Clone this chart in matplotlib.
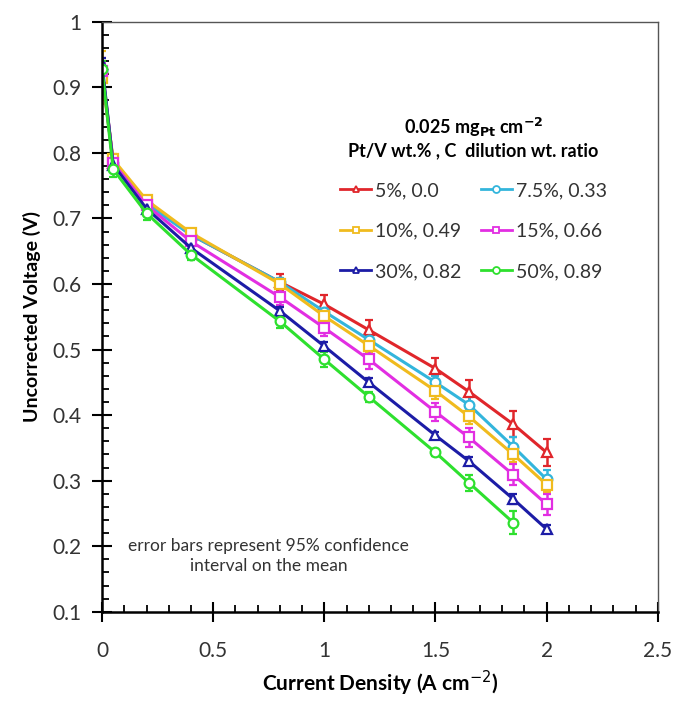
import numpy as np
import matplotlib.pyplot as plt
from matplotlib.ticker import MultipleLocator
from matplotlib.lines import Line2D

plt.rcParams['font.family'] = ['Lato', 'DejaVu Sans']

# current density (A cm-2)
x_all = [0, 0.05, 0.2, 0.4, 0.8, 1.0, 1.2, 1.5, 1.65, 1.85, 2.0]

labels = ['5%, 0.0', '7.5%, 0.33', '10%, 0.49', '15%, 0.66', '30%, 0.82', '50%, 0.89']

v_5 = [0.930, 0.785, 0.725, 0.675, 0.603, 0.569, 0.530, 0.471, 0.436, 0.386, 0.343]
v_7_5 = [0.925, 0.785, 0.722, 0.675, 0.603, 0.558, 0.515, 0.450, 0.416, 0.352, 0.302]
v_10 = [0.915, 0.790, 0.728, 0.678, 0.600, 0.551, 0.506, 0.437, 0.398, 0.340, 0.294]
v_15 = [0.925, 0.785, 0.720, 0.665, 0.580, 0.533, 0.485, 0.405, 0.366, 0.309, 0.264]
v_30 = [0.935, 0.782, 0.715, 0.655, 0.559, 0.505, 0.450, 0.369, 0.330, 0.272, 0.226]
v_50 = [0.928, 0.775, 0.708, 0.645, 0.543, 0.485, 0.428, 0.343, 0.297, 0.236]

e_5 = [0.015, 0.008, 0.006, 0.006, 0.012, 0.014, 0.015, 0.016, 0.018, 0.020, 0.020]
e_7_5 = [0.010, 0.006, 0.005, 0.005, 0.006, 0.007, 0.008, 0.010, 0.012, 0.015, 0.015]
e_10 = [0.040, 0.008, 0.006, 0.006, 0.008, 0.009, 0.010, 0.012, 0.012, 0.012, 0.012]
e_15 = [0.012, 0.006, 0.006, 0.006, 0.012, 0.013, 0.014, 0.014, 0.014, 0.016, 0.016]
e_30 = [0.010, 0.006, 0.005, 0.005, 0.006, 0.006, 0.006, 0.006, 0.006, 0.008, 0.006]
e_50 = [0.012, 0.012, 0.010, 0.008, 0.010, 0.012, 0.008, 0.006, 0.012, 0.018]

series = [v_5, v_7_5, v_10, v_15, v_30, v_50]
errors = [e_5, e_7_5, e_10, e_15, e_30, e_50]
colors = ['#e0262b', '#33b5dc', '#f0bb1e', '#e22ee2', '#1c1ca6', '#2ee02e']
markers = ['^', 'o', 's', 's', '^', 'o']

fig = plt.figure(figsize=(6.76, 7.04), dpi=100)
ax = fig.add_axes([0.151, 0.131, 0.822, 0.838])

handles = []
for v, e, c, m, lab in zip(series, errors, colors, markers, labels):
    x = x_all[:len(v)]
    ax.errorbar(x, v, yerr=e, color=c, marker=m, markersize=7, markerfacecolor='white',
                markeredgewidth=1.6, linewidth=2.2, elinewidth=1.8, capsize=3, capthick=1.8)
    handles.append(Line2D([], [], color=c, marker=m, markersize=5, markerfacecolor='white',
                          markeredgewidth=1.3, linewidth=2.0, label=lab))

ax.set_xlim(0, 2.5)
ax.set_ylim(0.1, 1.0)
ax.xaxis.set_minor_locator(MultipleLocator(0.1))
ax.yaxis.set_minor_locator(MultipleLocator(0.02))
ax.set_xticks([0, 0.5, 1, 1.5, 2, 2.5])
ax.set_xticklabels(['0', '0.5', '1', '1.5', '2', '2.5'])
ax.set_yticks(np.arange(0.1, 1.01, 0.1))
ax.set_yticklabels(['0.1', '0.2', '0.3', '0.4', '0.5', '0.6', '0.7', '0.8', '0.9', '1'])

ax.tick_params(which='major', direction='inout', length=14, width=1.5, labelsize=15,
               colors='black', labelcolor='#333333', pad=8)
ax.tick_params(which='minor', direction='in', length=5, width=1.3)
ax.tick_params(axis='x', pad=14)

for s in ['left', 'bottom']:
    ax.spines[s].set_linewidth(1.8)
for s in ['top', 'right']:
    ax.spines[s].set_linewidth(1.0)
    ax.spines[s].set_color('#555555')

ax.set_xlabel('Current Density (A cm$^{-2}$)', fontsize=15, fontweight='bold', labelpad=6)
ax.set_ylabel('Uncorrected Voltage (V)', fontsize=14, fontweight='bold', labelpad=8)

# row-wise legend order: matplotlib fills columns first
order = [0, 2, 4, 1, 3, 5]
leg = ax.legend([handles[i] for i in order], [labels[i] for i in order],
                ncol=2, loc='upper right', bbox_to_anchor=(0.94, 0.87), frameon=False,
                fontsize=14, handlelength=1.6, handletextpad=0.2, columnspacing=1.0,
                labelspacing=1.2, labelcolor='#333333',
                title='0.025 mg$_{\\mathbf{Pt}}$ cm$^{\\mathbf{-2}}$\nPt/V wt.% , C  dilution wt. ratio',
                title_fontproperties={'size': 13, 'weight': 'bold'})
leg.get_title().set_multialignment('center')

ax.text(0.75, 0.185, 'error bars represent 95% confidence\ninterval on the mean',
        ha='center', va='center', fontsize=12.5, color='#333333', linespacing=1.3)

fig.savefig('out.png', dpi=100)
